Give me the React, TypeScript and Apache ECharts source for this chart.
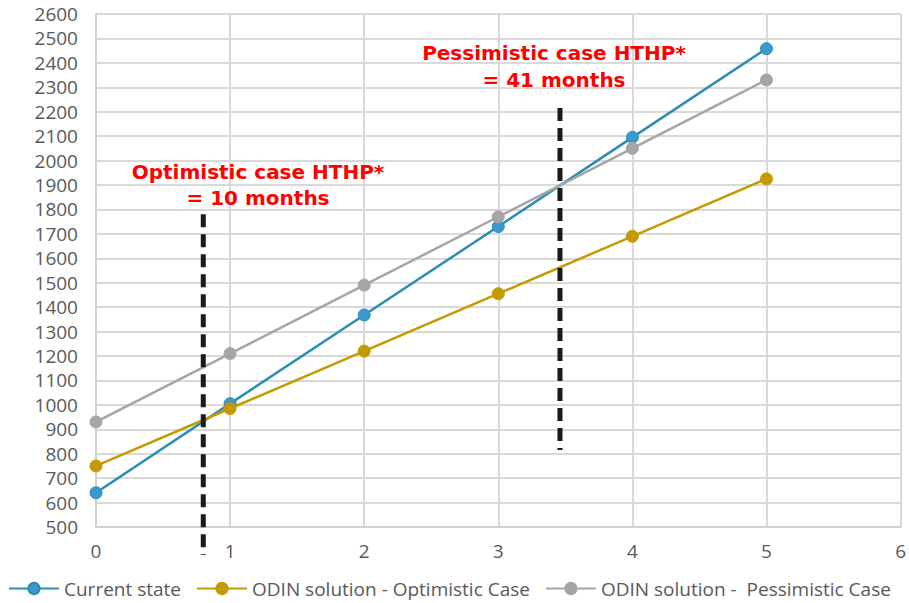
import React, { useEffect, useRef } from "react";
import * as echarts from "echarts";

const xValues = [0, 1, 2, 3, 4, 5];
const currentState = [640, 1005, 1368, 1730, 2095, 2458];
const optimistic = [750, 985, 1220, 1455, 1690, 1925];
const pessimistic = [930, 1210, 1490, 1770, 2050, 2330];
const seriesNames = [
  "Current state",
  "ODIN solution - Optimistic Case",
  "ODIN solution -  Pessimistic Case",
];
const optimisticHthp = [[0.8, 1780], [0.8, 385]];
const pessimisticHthp = [[3.46, 2215], [3.46, 815]];
const optLabel = ["Optimistic case HTHP*", "= 10 months"];
const pesLabel = ["Pessimistic case HTHP*", "= 41 months"];

const pair = (ys: number[]) => xValues.map((x, i) => [x, ys[i]]);

export default function App() {
  const ref = useRef<HTMLDivElement>(null);
  useEffect(() => {
    if (!ref.current) return;
    const chart = echarts.init(ref.current, undefined, { renderer: "svg" });
    const mk = (name: string, data: number[], line: string, fill: string) => ({
      name,
      type: "line",
      data: pair(data),
      symbol: "circle",
      symbolSize: 12,
      lineStyle: { color: line, width: 2.5 },
      itemStyle: { color: fill, borderColor: line, borderWidth: 1 },
      z: 3,
    });
    const dash = (data: number[][]) => ({
      type: "line",
      data,
      clip: false,
      showSymbol: false,
      symbol: "none",
      silent: true,
      lineStyle: { color: "#1a1a1a", width: 5, type: [13, 7] },
      z: 4,
    });
    const redText = {
      fill: "#FF0000",
      fontFamily: "DejaVu Sans",
      fontWeight: "bold",
      fontSize: 20,
      align: "center",
      verticalAlign: "middle",
    };
    chart.setOption({
      animation: false,
      backgroundColor: "#ffffff",
      grid: { left: 96, right: 6, top: 14, bottom: 76, containLabel: false },
      xAxis: {
        type: "value",
        min: 0,
        max: 6,
        interval: 1,
        axisLine: { show: true, lineStyle: { color: "#D0D0D0", width: 2 } },
        axisTick: { show: false },
        splitLine: { show: true, lineStyle: { color: "#D9D9D9", width: 2 } },
        axisLabel: {
          color: "#595959",
          fontFamily: "Open Sans",
          fontSize: 19,
          margin: 14,
        },
      },
      yAxis: {
        type: "value",
        min: 500,
        max: 2600,
        interval: 100,
        axisLine: { show: true, lineStyle: { color: "#D0D0D0", width: 2 } },
        axisTick: { show: false },
        splitLine: { show: true, lineStyle: { color: "#D9D9D9", width: 2 } },
        axisLabel: {
          color: "#595959",
          fontFamily: "Open Sans",
          fontSize: 19,
          margin: 18,
          formatter: (v: number) => String(v),
        },
      },
      legend: {
        data: seriesNames,
        bottom: 5,
        left: 8,
        width: 901,
        padding: 0,
        itemWidth: 50,
        itemHeight: 14,
        itemGap: 15,
        textStyle: { color: "#595959", fontFamily: "Open Sans", fontSize: 19 },
      },
      series: [
        mk(seriesNames[0], currentState, "#2A8DB2", "#3A9AD0"),
        mk(seriesNames[1], optimistic, "#C49A00", "#C49A00"),
        mk(seriesNames[2], pessimistic, "#A5A5A5", "#A5A5A5"),
        dash(optimisticHthp),
        dash(pessimisticHthp),
      ],
      graphic: [
        { type: "text", x: 258, y: 172, style: { ...redText, text: optLabel[0] }, z: 10 },
        { type: "text", x: 258, y: 198, style: { ...redText, text: optLabel[1] }, z: 10 },
        { type: "text", x: 554, y: 53, style: { ...redText, text: pesLabel[0] }, z: 10 },
        { type: "text", x: 554, y: 80, style: { ...redText, text: pesLabel[1] }, z: 10 },
      ],
    });
    return () => chart.dispose();
  }, []);
  return (
    <div
      ref={ref}
      style={{ position: "absolute", left: 0, top: 0, width: 909, height: 603 }}
    />
  );
}
